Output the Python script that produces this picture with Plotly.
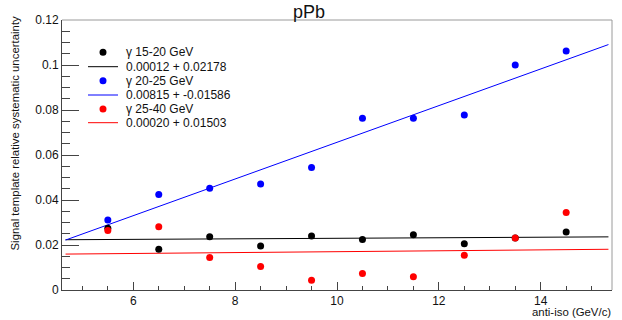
import plotly.graph_objects as go

# ---- data ----
x_bins = [5.5, 6.5, 7.5, 8.5, 9.5, 10.5, 11.5, 12.5, 13.5, 14.5]
unc_15_20 = [0.0274, 0.0181, 0.0237, 0.0196, 0.0240, 0.0225, 0.0246, 0.0206, 0.0231, 0.0258]
unc_20_25 = [0.0311, 0.0424, 0.0452, 0.0471, 0.0545, 0.0763, 0.0763, 0.0778, 0.1000, 0.1062]
unc_25_40 = [0.0264, 0.0281, 0.0144, 0.0104, 0.0043, 0.0073, 0.0059, 0.0154, 0.0231, 0.0345]
series_names = ["γ 15-20 GeV", "γ 20-25 GeV", "γ 25-40 GeV"]
fit_slopes = [0.00012, 0.00815, 0.00020]
fit_intercepts = [0.02178, -0.01586, 0.01503]
fit_labels = ["0.00012 + 0.02178", "0.00815 + -0.01586", "0.00020 + 0.01503"]
fit_range = [4.67, 15.33]
x_range = [4.6, 15.4]
y_range = [0, 0.12]
colors = ["#000000", "#0000ff", "#ff0000"]

W, H = 622, 320
ML, MR, MT, MB = 62, 10, 20, 30
PW, PH = W - ML - MR, H - MT - MB

def px_x(p):
    return (p - ML) / PW

def px_y(p):
    return (H - MB - p) / PH

fig = go.Figure()
series = [unc_15_20, unc_20_25, unc_25_40]
for i in range(3):
    fx = fit_range
    fy = [fit_slopes[i] * v + fit_intercepts[i] for v in fx]
    fig.add_trace(go.Scatter(x=fx, y=fy, mode="lines",
                             line=dict(color=colors[i], width=1),
                             showlegend=False, hoverinfo="skip"))
for i in range(3):
    fig.add_trace(go.Scatter(x=x_bins, y=series[i], mode="markers",
                             marker=dict(color=colors[i], size=7),
                             name=series_names[i], showlegend=False))

font = "Liberation Sans, Arial, Helvetica, sans-serif"
shapes = []
annotations = []
# frame top/right
shapes.append(dict(type="line", xref="paper", yref="paper", x0=0, x1=1, y0=1, y1=1,
                   line=dict(color="#9a9a9a", width=1)))
shapes.append(dict(type="line", xref="paper", yref="paper", x0=1, x1=1, y0=0, y1=1,
                   line=dict(color="#9a9a9a", width=1)))

# manual legend
row_y = [52.3, 66.7, 80.7, 95.0, 109.0, 122.7]
for i in range(3):
    ym = px_y(row_y[2 * i])
    yl = px_y(row_y[2 * i + 1])
    shapes.append(dict(type="circle", xref="paper", yref="paper",
                       xsizemode="pixel", ysizemode="pixel",
                       xanchor=px_x(103), yanchor=ym,
                       x0=-3.5, x1=3.5, y0=-3.5, y1=3.5,
                       fillcolor=colors[i], line=dict(width=0)))
    shapes.append(dict(type="line", xref="paper", yref="paper",
                       x0=px_x(88), x1=px_x(118), y0=yl, y1=yl,
                       line=dict(color=colors[i], width=1)))
    annotations.append(dict(text=series_names[i], xref="paper", yref="paper",
                            x=px_x(124), y=ym, xanchor="left", yanchor="middle",
                            showarrow=False, font=dict(size=12, color="#111", family=font)))
    annotations.append(dict(text=fit_labels[i], xref="paper", yref="paper",
                            x=px_x(124), y=yl, xanchor="left", yanchor="middle",
                            showarrow=False, font=dict(size=12, color="#111", family=font)))

annotations.append(dict(text="Signal template relative systematic uncertainty",
                        xref="paper", yref="paper", x=px_x(14), y=px_y(14),
                        xanchor="center", yanchor="top", textangle=-90,
                        showarrow=False, font=dict(size=11.4, color="#111", family=font)))
annotations.append(dict(text="anti-iso (GeV/c)", xref="paper", yref="paper",
                        x=px_x(613), y=px_y(312), xanchor="right", yanchor="middle",
                        showarrow=False, font=dict(size=11.4, color="#111", family=font)))

fig.update_layout(
    width=W, height=H,
    margin=dict(l=ML, r=MR, t=MT, b=MB),
    paper_bgcolor="white", plot_bgcolor="white",
    title=dict(text="pPb", x=309 / W, xanchor="center", y=1 - 12 / H, yanchor="middle",
               font=dict(size=18, color="#111", family=font)),
    font=dict(family=font, size=12, color="#111"),
    shapes=shapes, annotations=annotations,
    showlegend=False,
)
fig.update_xaxes(range=x_range, showgrid=False, zeroline=False,
                 showline=True, linecolor="#444", linewidth=1,
                 ticks="inside", ticklen=8, tickcolor="#444",
                 tick0=0, dtick=2,
                 minor=dict(ticks="inside", ticklen=4, tickcolor="#444", dtick=0.5, tick0=0),
                 tickfont=dict(size=12, color="#111", family=font))
fig.update_yaxes(range=y_range, showgrid=False, zeroline=False,
                 showline=True, linecolor="#444", linewidth=1,
                 ticks="inside", ticklen=17, tickcolor="#444",
                 tick0=0, dtick=0.02,
                 minor=dict(ticks="inside", ticklen=8, tickcolor="#444", dtick=0.005, tick0=0),
                 tickfont=dict(size=12, color="#111", family=font))

fig.write_html("out.html", config={"displayModeBar": False},
               post_script="document.body.style.margin='0';document.body.style.overflow='hidden';")
